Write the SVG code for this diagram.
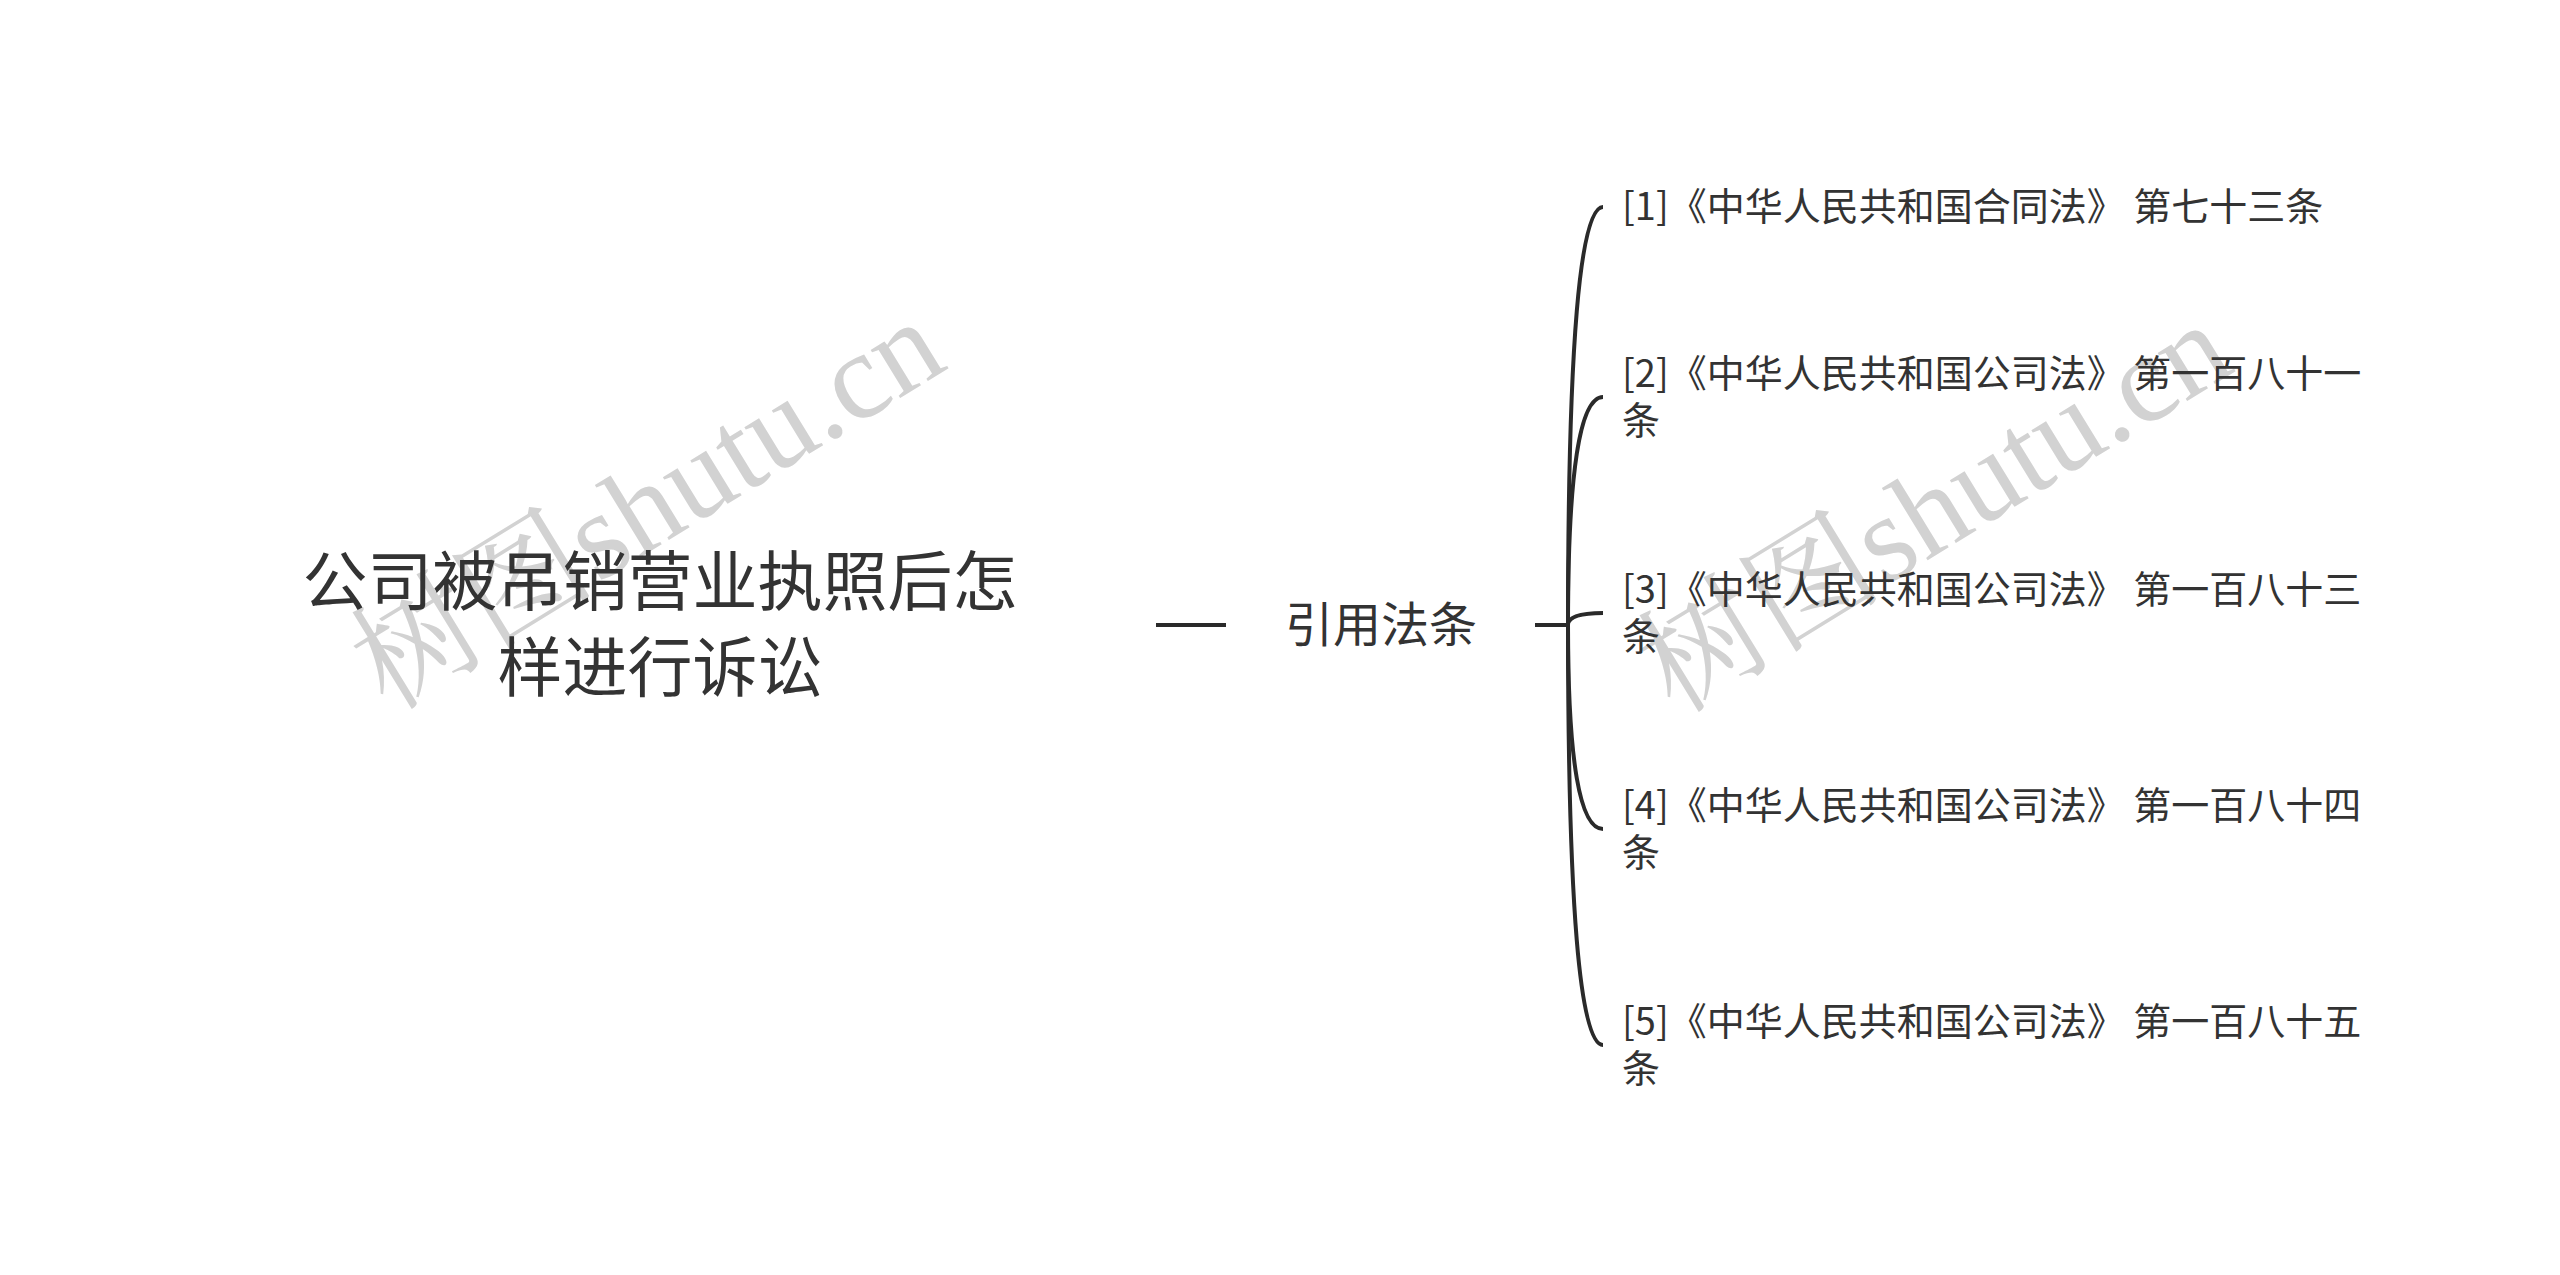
<svg xmlns="http://www.w3.org/2000/svg" width="2560" height="1275" viewBox="0 0 2560 1275">
<style>
.t{font-family:"Noto Sans CJK SC","Noto Sans",sans-serif;fill:#333333}
.root{font-size:65px;text-anchor:middle}
.sub{font-size:48px;text-anchor:middle}
.leaf{font-size:38px}
.wm{font-family:"Liberation Serif","Noto Serif CJK SC","Noto Sans CJK SC",serif;font-size:123px;fill:#d2d2d2}
.c{fill:none;stroke:#2a2a2a;stroke-width:4}
</style>
<rect width="2560" height="1275" fill="#ffffff"/>
<g id="watermarks">
<text class="wm" transform="translate(388,712) rotate(-31.5)">树图shutu.cn</text>
<text class="wm" transform="translate(1675,715) rotate(-31.5)">树图shutu.cn</text>
</g>
<g id="connectors">
<path class="c" d="M1156,625 H1226"/>
<path class="c" d="M1535,625 H1568"/>
<path class="c" d="M1568,625 Q1568,207 1603,207"/>
<path class="c" d="M1568,625 Q1568,397 1603,397"/>
<path class="c" d="M1568,625 Q1568,613 1603,613"/>
<path class="c" d="M1568,625 Q1568,829 1603,829"/>
<path class="c" d="M1568,625 Q1568,1045 1603,1045"/>
</g>
<g id="root">
<text class="t root" x="660" y="605">公司被吊销营业执照后怎</text>
<text class="t root" x="660" y="691">样进行诉讼</text>
</g>
<g id="sub">
<text class="t sub" x="1381" y="642">引用法条</text>
</g>
<g id="leaf1">
<text class="t leaf" x="1622" y="220">[1]《中华人民共和国合同法》 第七十三条</text>
</g>
<g id="leaf2">
<text class="t leaf" x="1622" y="387">[2]《中华人民共和国公司法》 第一百八十一</text>
<text class="t leaf" x="1622" y="434">条</text>
</g>
<g id="leaf3">
<text class="t leaf" x="1622" y="603">[3]《中华人民共和国公司法》 第一百八十三</text>
<text class="t leaf" x="1622" y="650">条</text>
</g>
<g id="leaf4">
<text class="t leaf" x="1622" y="819">[4]《中华人民共和国公司法》 第一百八十四</text>
<text class="t leaf" x="1622" y="866">条</text>
</g>
<g id="leaf5">
<text class="t leaf" x="1622" y="1035">[5]《中华人民共和国公司法》 第一百八十五</text>
<text class="t leaf" x="1622" y="1082">条</text>
</g>
</svg>
